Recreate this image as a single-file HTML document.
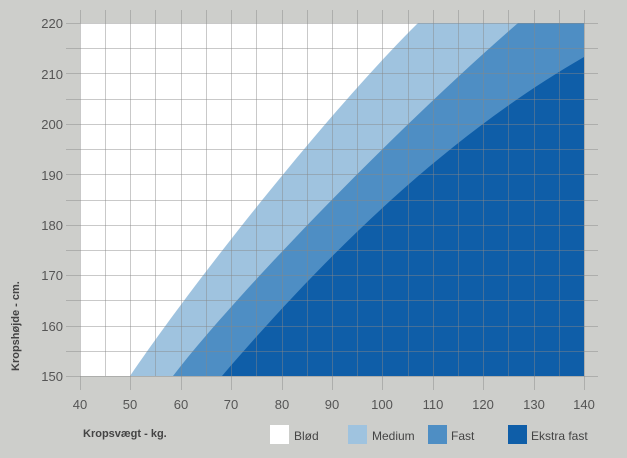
<!DOCTYPE html>
<html><head><meta charset="utf-8"><style>
html,body{margin:0;padding:0;background:#cdcecb;}
svg{display:block;font-family:"Liberation Sans",sans-serif;}
</style></head><body>
<svg width="627" height="458" viewBox="0 0 627 458">
<rect width="627" height="458" fill="#cdcecb"/>
<rect x="80" y="23" width="504" height="353" fill="#fff"/>
<path d="M130,376 C195,280 330,110 418,23 L584,23 L584,376 Z" fill="#9fc3df"/>
<path d="M173,376 C235,295 400,125 518,23 L584,23 L584,376 Z" fill="#4e8ec4"/>
<path d="M222,376 C320,262 440,140 584,57 L584,376 Z" fill="#0f5ea8"/>
<g stroke="#888" stroke-opacity="0.45" stroke-width="1">
<path d="M80.5,10V390M105.5,10V376M130.5,10V390M155.5,10V376M181.5,10V390M206.5,10V376M231.5,10V390M256.5,10V376M282.5,10V390M307.5,10V376M332.5,10V390M357.5,10V376M382.5,10V390M408.5,10V376M433.5,10V390M458.5,10V376M483.5,10V390M508.5,10V376M534.5,10V390M559.5,10V376M584.5,10V390"/>
<path d="M66,23.5H598M66,48.5H598M66,73.5H598M66,99.5H598M66,124.5H598M66,149.5H598M66,174.5H598M66,200.5H598M66,225.5H598M66,250.5H598M66,275.5H598M66,300.5H598M66,326.5H598M66,351.5H598M66,376.5H598"/>
</g>
<g font-size="13" fill="#555" text-anchor="end">
<text x="63" y="28">220</text><text x="63" y="79">210</text><text x="63" y="129">200</text><text x="63" y="180">190</text><text x="63" y="230">180</text><text x="63" y="280">170</text><text x="63" y="331">160</text><text x="63" y="381">150</text>
</g>
<g font-size="13" fill="#555" text-anchor="middle">
<text x="80" y="409">40</text><text x="130" y="409">50</text><text x="181" y="409">60</text><text x="231" y="409">70</text><text x="282" y="409">80</text><text x="332" y="409">90</text><text x="382" y="409">100</text><text x="433" y="409">110</text><text x="483" y="409">120</text><text x="534" y="409">130</text><text x="584" y="409">140</text>
</g>
<text transform="translate(19,371) rotate(-90)" font-size="11" font-weight="bold" fill="#444">Kropshøjde - cm.</text>
<text x="83" y="437" font-size="11" font-weight="bold" fill="#444">Kropsvægt - kg.</text>
<g font-size="12" fill="#444">
<rect x="270" y="425" width="19" height="19" fill="#fff"/><text x="294" y="440">Blød</text>
<rect x="348" y="425" width="19" height="19" fill="#9fc3df"/><text x="372" y="440">Medium</text>
<rect x="428" y="425" width="19" height="19" fill="#4e8ec4"/><text x="451" y="440">Fast</text>
<rect x="508" y="425" width="19" height="19" fill="#0f5ea8"/><text x="531" y="440">Ekstra fast</text>
</g>
</svg>
</body></html>
